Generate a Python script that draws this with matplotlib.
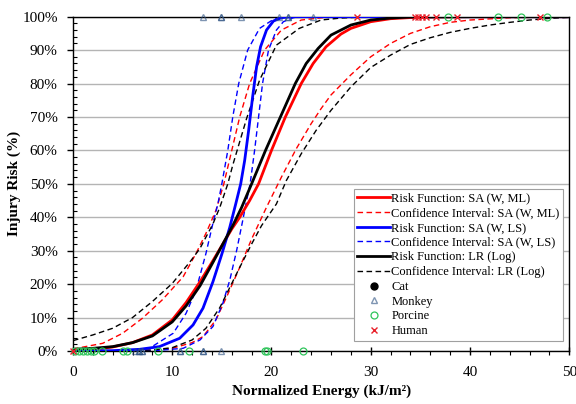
import numpy as np
import matplotlib
matplotlib.use('Agg')
import matplotlib.pyplot as plt
from matplotlib.ticker import MultipleLocator, FuncFormatter

plt.rcParams['font.family'] = ['Liberation Serif', 'DejaVu Serif']

# Risk function: SA (W, ML) and its confidence interval (energy kJ/m2, risk %)
ml_x = [0, 2, 4, 6, 8, 10, 11.4, 12.8, 14.1, 15, 16, 16.8, 17.8, 18.7, 20, 21.4, 23, 24.2, 25.5, 27, 28, 30, 32, 35, 40, 50]
ml_y = [0.2, 0.5, 1.2, 2.5, 4.8, 9.3, 14.5, 20.7, 27, 31.5, 36.5, 40, 45, 50, 60, 70, 80, 86, 91, 94.8, 96.5, 98.5, 99.4, 99.9, 100, 100]
ml_hi_x = [0, 3, 5, 7, 9, 11.1, 12.4, 13.4, 14.4, 15.2, 16.0, 16.8, 17.8, 19.3, 21.0, 23, 26, 50]
ml_hi_y = [0.6, 2.3, 5.3, 9.8, 15.3, 22.2, 29.2, 35.2, 42, 50, 60, 70, 80, 90, 96, 99, 100, 100]
ml_lo_x = [0, 4, 8, 10, 12, 13.1, 14.4, 15.5, 16.8, 18, 19.5, 21, 22.5, 24, 25, 26, 28, 30, 32, 34, 36, 38, 40, 44, 50]
ml_lo_y = [0, 0.05, 0.2, 0.8, 2.5, 4.3, 9.3, 16.3, 25, 33.5, 43, 52, 60.5, 68, 72.5, 76.6, 82.6, 88, 92, 95, 97, 98.3, 99, 99.7, 100]

# Risk function: SA (W, LS)
ls_x = [0, 4, 6.7, 8.7, 10.75, 12.1, 13.1, 14.1, 15, 15.8, 16.4, 16.9, 17.3, 17.7, 18.1, 18.5, 18.9, 19.5, 20.2, 21, 22, 50]
ls_y = [0, 0.1, 0.5, 1.3, 3.8, 7.8, 12.8, 20.7, 29, 37, 44, 50, 57, 66, 76, 85, 91, 96, 98.7, 99.7, 100, 100]
ls_hi_x = [0, 5, 7.7, 10.1, 11.4, 12.4, 13.4, 14.1, 14.6, 15.0, 15.6, 16.1, 16.7, 17.6, 18.8, 20.2, 21.5, 50]
ls_hi_y = [0, 0.1, 0.8, 5.3, 11.3, 18.2, 29.2, 38.2, 44, 50, 60, 70, 80, 90, 96.5, 99.2, 100, 100]
ls_lo_x = [0, 8, 11.1, 12.8, 14.1, 15.1, 15.8, 16.5, 17.1, 17.5, 17.85, 18.3, 18.7, 19.1, 19.7, 20.5, 21.2, 22.2, 23, 50]
ls_lo_y = [0, 0.05, 0.8, 3.3, 7.3, 14.3, 21.2, 30.2, 39, 45, 50, 60, 70, 80, 90, 96, 98.5, 99.7, 100, 100]

# Risk function: LR (Log)
lr_x = [0, 2, 4, 6, 8, 10, 11.4, 12.8, 14.1, 15.1, 16.1, 17, 18, 19.4, 20.9, 22.4, 23.5, 24.7, 26, 28, 30, 32, 34, 40, 50]
lr_y = [0.5, 0.8, 1.3, 2.5, 4.5, 8.7, 13.5, 19.5, 26.5, 32, 37.5, 43, 50, 60, 70, 80, 86, 90.5, 94.5, 97.5, 99, 99.6, 99.9, 100, 100]
lr_hi_x = [0, 2, 4, 6, 8, 10, 11.8, 12.8, 14.1, 14.8, 15.6, 16.1, 17.5, 18.8, 20.5, 22.8, 25, 27, 30, 50]
lr_hi_y = [3.1, 4.8, 6.8, 10, 14.8, 20.2, 26.7, 30.7, 38, 43, 50, 55.6, 69.6, 81, 91.5, 96.5, 99, 99.6, 100, 100]
lr_lo_x = [0, 4, 8, 10, 12, 13.4, 14.8, 15.8, 16.8, 18, 19, 20.5, 21.5, 23, 24.5, 26, 28, 30, 32, 34, 36, 38, 40, 42, 44, 46, 48, 50]
lr_lo_y = [0, 0.05, 0.3, 1.0, 3.3, 6.8, 13, 19, 25, 32, 37.5, 44, 51, 59, 66, 72, 79, 84.8, 88.5, 91.7, 93.7, 95.3, 96.5, 97.5, 98.3, 99.0, 99.5, 99.8]

# test data (energy, injury risk %)
cat_x = []
cat_y = []
monkey_x = [6.2, 6.7, 6.7, 7.0, 7.0, 10.8, 10.8, 13.1, 13.1, 14.9,
            13.1, 14.9, 14.9, 16.9, 20.8, 21.7, 21.7, 24.2]
monkey_y = [0] * 10 + [100] * 8
porcine_x = [0.2, 0.6, 1.0, 1.4, 1.8, 2.1, 2.9, 5.05, 5.4, 8.6, 11.7, 19.35, 19.6, 23.2,
             37.8, 42.8, 45.1, 47.75]
porcine_y = [0] * 14 + [100] * 4
human_x = [0, 28.6, 34.5, 34.8, 35.2, 35.6, 36.6, 38.7, 47.1]
human_y = [0] + [100] * 8

fig = plt.figure(figsize=(5.76, 4.04), dpi=100)
ax = fig.add_axes([0.1267, 0.1312, 0.8615, 0.8275])

dash = dict(lw=1.0, dashes=(4, 2.5))
ax.plot(ml_x, ml_y, color='red', lw=2.0, label='Risk Function: SA (W, ML)', zorder=4)
ax.plot(ml_hi_x, ml_hi_y, color='red', label='Confidence Interval: SA (W, ML)', zorder=3, **dash)
ax.plot(ml_lo_x, ml_lo_y, color='red', zorder=3, **dash)
ax.plot(ls_x, ls_y, color='blue', lw=2.0, label='Risk Function: SA (W, LS)', zorder=4)
ax.plot(ls_hi_x, ls_hi_y, color='blue', label='Confidence Interval: SA (W, LS)', zorder=3, **dash)
ax.plot(ls_lo_x, ls_lo_y, color='blue', zorder=3, **dash)
ax.plot(lr_x, lr_y, color='black', lw=2.0, label='Risk Function: LR (Log)', zorder=4)
ax.plot(lr_hi_x, lr_hi_y, color='black', label='Confidence Interval: LR (Log)', zorder=3, **dash)
ax.plot(lr_lo_x, lr_lo_y, color='black', zorder=3, **dash)

ax.plot(cat_x, cat_y, 'o', color='black', ms=5, label='Cat', clip_on=False, zorder=5)
ax.plot(monkey_x, monkey_y, '^', mfc='none', mec='#2a4f80', mew=1.0, ms=5, alpha=0.6,
        label='Monkey', clip_on=False, zorder=5)
ax.plot(porcine_x, porcine_y, 'o', mfc='none', mec='#2ec45a', mew=0.9, ms=5,
        label='Porcine', clip_on=False, zorder=5)
ax.plot(human_x, human_y, 'x', color='#e8202a', mew=1.0, ms=5, label='Human',
        clip_on=False, zorder=6)

ax.set_xlim(0, 50)
ax.set_ylim(0, 100)
ax.xaxis.set_major_locator(MultipleLocator(10))
ax.xaxis.set_minor_locator(MultipleLocator(2))
ax.yaxis.set_major_locator(MultipleLocator(10))
ax.yaxis.set_minor_locator(MultipleLocator(2))
ax.yaxis.set_major_formatter(FuncFormatter(lambda v, p: '%d%%' % v))
ax.tick_params(axis='x', which='major', direction='inout', length=6, width=1, labelsize=11, pad=8)
ax.tick_params(axis='x', which='minor', direction='out', length=3, width=0.8)
ax.tick_params(axis='y', which='major', direction='out', length=4, width=1, labelsize=11, pad=7)
ax.tick_params(axis='y', which='minor', direction='in', length=3, width=0.8)
ax.grid(axis='y', which='major', color='#b4b4b4', lw=1.0, zorder=0)
ax.set_axisbelow(True)
for s in ax.spines.values():
    s.set_linewidth(1.0)
    s.set_color('black')

ax.set_xlabel('Normalized Energy (kJ/m²)', fontsize=11, fontweight='bold', labelpad=4)
ax.set_ylabel('Injury Risk (%)', fontsize=11, fontweight='bold', labelpad=1)

leg = ax.legend(loc='lower right', bbox_to_anchor=(0.988, 0.03), fontsize=9,
                frameon=True, fancybox=False, framealpha=1, edgecolor='#a0a0a0',
                handlelength=2.6, handletextpad=0.1, labelspacing=0.22,
                borderpad=0.3, borderaxespad=0)
leg.get_frame().set_linewidth(0.8)
leg.set_zorder(10)

fig.savefig('out.png', dpi=100)
